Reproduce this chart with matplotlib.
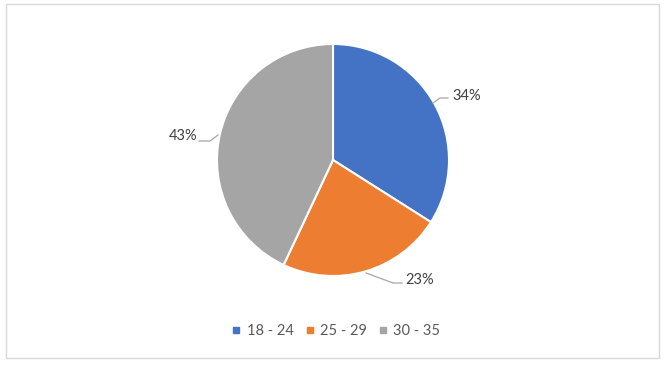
import matplotlib.pyplot as plt
from matplotlib.patches import Rectangle
from matplotlib.lines import Line2D

# data
categories = ['18 - 24', '25 - 29', '30 - 35']
shares = [34, 23, 43]
colors = ['#4472C4', '#ED7D31', '#A5A5A5']

W, H = 668, 367
cx, cy, r = 333, 160, 116

fig = plt.figure(figsize=(W / 100, H / 100), dpi=100)
plt.rcParams['font.family'] = ['Lato', 'DejaVu Sans']

# chart border
fig.patches.append(Rectangle((5.5 / W, 1 - 357.5 / H), 653 / W, 353.5 / H,
                             transform=fig.transFigure, fill=False,
                             edgecolor='#D9D9D9', linewidth=1))

ax = fig.add_axes([(cx - r) / W, (H - cy - r) / H, 2 * r / W, 2 * r / H])
wedges, _ = ax.pie(shares, colors=colors, startangle=90, counterclock=False,
                   radius=1, wedgeprops=dict(edgecolor='white', linewidth=1.5))
ax.set_xlim(-1, 1)
ax.set_ylim(-1, 1)
ax.set_aspect('equal')
ax.axis('off')


def px(x, y):
    return ((x - cx) / r, (cy - y) / r)


# data labels with leader lines (pixel positions)
label_pos = [(452, 96, 'left'), (405, 280, 'left'), (197, 136, 'right')]
leaders = [
    [(433, 103), (440, 98), (448, 98)],
    [(366, 273), (393, 283), (402, 283)],
    [(218, 135), (210, 141), (199, 141)],
]
for s, (x, y, ha), pts in zip(shares, label_pos, leaders):
    xs, ys = zip(*[px(a, b) for a, b in pts])
    ax.add_line(Line2D(xs, ys, color='#A6A6A6', linewidth=0.9, clip_on=False))
    tx, ty = px(x, y)
    ax.text(tx, ty, f'{s}%', ha=ha, va='center', fontsize=10.5,
            color='#404040', clip_on=False)

handles = [Line2D([], [], marker='s', linestyle='none', markersize=5,
                  markerfacecolor=c, markeredgecolor=c) for c in colors]
fig.legend(handles, categories, loc='center', bbox_to_anchor=(336 / W, 1 - 331 / H),
           ncol=3, frameon=False, fontsize=10.5, handlelength=0.6,
           handletextpad=0.4, columnspacing=0.8, labelcolor='#595959')

fig.savefig('out.png', dpi=100)
